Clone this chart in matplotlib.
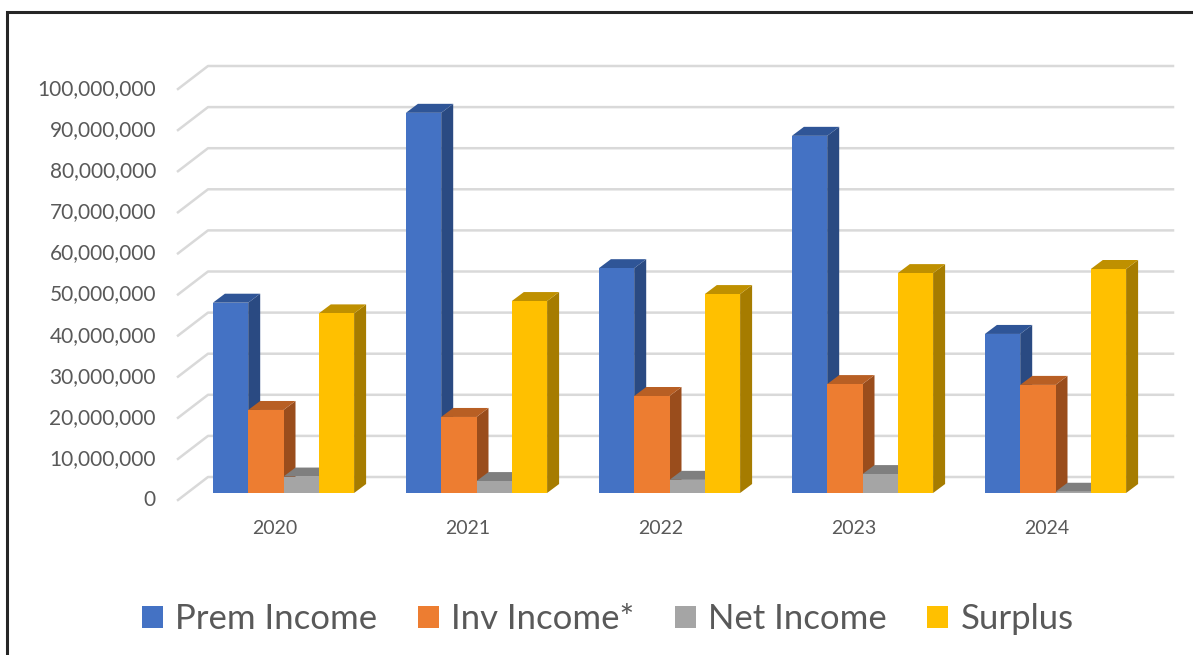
import matplotlib

matplotlib.use("Agg")
import matplotlib.pyplot as plt
from matplotlib.lines import Line2D
from matplotlib.patches import Polygon, Rectangle

years = ["2020", "2021", "2022", "2023", "2024"]
prem_income = [46.3e6, 92.5e6, 54.7e6, 86.9e6, 38.7e6]
inv_income = [20.2e6, 18.5e6, 23.6e6, 26.5e6, 26.3e6]
net_income = [4.0e6, 2.9e6, 3.2e6, 4.6e6, 0.3e6]
surplus = [43.7e6, 46.7e6, 48.4e6, 53.5e6, 54.5e6]
series_names = ["Prem Income", "Inv Income*", "Net Income", "Surplus"]
y_ticks = list(range(0, 100_000_001, 10_000_000))

# front / top / side colours for each series
face_colors = ["#4472C4", "#ED7D31", "#A5A5A5", "#FFC000"]
top_colors = ["#2F5597", "#B85F24", "#7F7F7F", "#BF9000"]
side_colors = ["#2A4A82", "#9A4D1C", "#6F6F6F", "#A67C00"]
text_color = "#595959"
grid_color = "#D9D9D9"

plt.rcParams["font.family"] = ["Lato", "DejaVu Sans"]

W, H = 1193, 655
fig = plt.figure(figsize=(W / 100, H / 100), dpi=100)
ax = fig.add_axes([187 / W, 162 / H, 965 / W, 411 / H])
ax.set_xlim(-0.5, len(years) - 0.5)
ax.set_ylim(0, 100_000_000)
ax.axis("off")

# pixel -> data unit conversion
px_x = 965 / len(years)
px_y = 411 / 100_000_000
bar_dx, bar_dy = 12 / px_x, 9 / px_y
wall_front = (-9 / px_x, -7 / px_y)
wall_back = (21 / px_x, 16 / px_y)

# walls / gridlines
x_left, x_right = -0.5, len(years) - 0.5
for v in y_ticks:
    ax.add_line(Line2D(
        [x_left + wall_front[0], x_left + wall_back[0], x_right + wall_back[0]],
        [v + wall_front[1], v + wall_back[1], v + wall_back[1]],
        color=grid_color, linewidth=1.8, clip_on=False, zorder=1,
    ))
    ax.text(x_left - 31 / px_x, v + wall_front[1], f"{v:,}",
            ha="right", va="center", fontsize=15, color=text_color)

for i, year in enumerate(years):
    ax.text(i + wall_front[0], -36 / px_y, year, ha="center", va="center",
            fontsize=14, color=text_color)

# 3D-looking bars
bar_w = 35.3 / px_x
series = [prem_income, inv_income, net_income, surplus]
for i in range(len(years)):
    for k, values in enumerate(series):
        x0 = i - 2 * bar_w + k * bar_w
        x1 = x0 + bar_w
        h = values[i]
        front = Polygon([(x0, 0), (x1, 0), (x1, h), (x0, h)], closed=True,
                        facecolor=face_colors[k], edgecolor="none", zorder=3)
        top = Polygon([(x0, h), (x1, h), (x1 + bar_dx, h + bar_dy),
                       (x0 + bar_dx, h + bar_dy)], closed=True,
                      facecolor=top_colors[k], edgecolor="none", zorder=3)
        side = Polygon([(x1, 0), (x1 + bar_dx, bar_dy), (x1 + bar_dx, h + bar_dy),
                        (x1, h)], closed=True,
                       facecolor=side_colors[k], edgecolor="none", zorder=3)
        for p in (side, top, front):
            p.set_clip_on(False)
            ax.add_patch(p)

handles = [Rectangle((0, 0), 1, 1, facecolor=c, edgecolor="none") for c in face_colors]
leg = fig.legend(handles, series_names, loc="center", bbox_to_anchor=(608 / W, 1 - 619 / H),
                 ncol=4, frameon=False, fontsize=25, handlelength=0.6, handleheight=0.62,
                 handletextpad=0.35, columnspacing=1.17, borderpad=0)
for t in leg.get_texts():
    t.set_color(text_color)

# outer frame (left and top edges visible)
fig.patches.append(Rectangle((7.5 / W, -0.05), 1.1, 1.05 - 12 / H, transform=fig.transFigure,
                             fill=False, edgecolor="#262626", linewidth=2.2))

fig.savefig("out.png", dpi=100)
